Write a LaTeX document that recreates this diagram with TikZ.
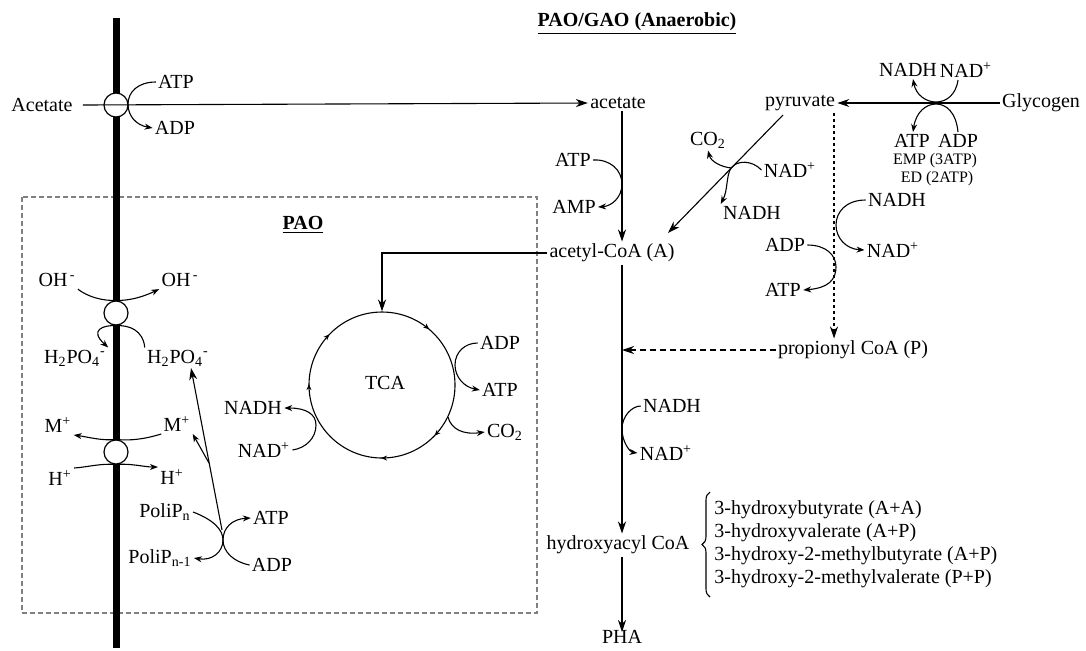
\documentclass[tikz,border=0pt]{standalone}
\usepackage{fontspec}
\setmainfont{Liberation Serif}
\usetikzlibrary{arrows.meta,decorations.markings,decorations.pathreplacing}
\begin{document}
\begin{tikzpicture}[x=0.5pt,y=-0.5pt,
  lbl/.style={font=\fontsize{10}{12}\selectfont, inner sep=1pt},
  sml/.style={font=\fontsize{8}{10}\selectfont, inner sep=1pt},
  ttl/.style={font=\fontsize{10}{12}\selectfont\bfseries, inner sep=1pt},
  ln/.style={line width=0.55pt},
  arr/.style={ln, -{Stealth[length=6pt,width=4pt]}},
  sarr/.style={ln, -{Stealth[length=4pt,width=3pt]}},
  tr/.style={circle, draw, fill=white, line width=0.6pt, minimum size=12pt, inner sep=0pt},
]
\useasboundingbox (0,0) rectangle (1086,650);
\fill[white] (0,0) rectangle (1086,650);

% titles and box
\node[ttl] (title) at (637,24) {\underline{PAO/GAO (Anaerobic)}};
\node[ttl] (pao) at (303,225) {\underline{PAO}};
\draw[gray, line width=0.6pt, dash pattern=on 2.5pt off 1.5pt] (22,197) rectangle (537,613);

% membrane
\coordinate (memtop) at (116,18);
\coordinate (membot) at (116,648);
\draw[line width=3.5pt] (memtop) -- (membot);
\node[tr] (t1) at (116,105) {};
\node[tr] (t2) at (116,313) {};
\node[tr] (t3) at (116,452) {};

% acetate uptake
\node[lbl] (Acet) at (42,105) {Acetate};
\node[lbl] (acet) at (618,103) {acetate};
\draw[arr] ([xshift=4pt]Acet.east) -- (acet.west);
\node[lbl] (atpA) at (176,82) {ATP};
\node[lbl] (adpA) at (175,128) {ADP};
\draw[sarr] (atpA.west) .. controls (138,82) and (128,92) .. (128,104) .. controls (128,116) and (136,125) .. (adpA.west);

% main column
\coordinate (mx) at (622,0);
\node[lbl] (acoa) at (612,253) {acetyl-CoA (A)};
\node[lbl] (hac) at (618,545) {hydroxyacyl CoA};
\node[lbl] (pha) at (622,637) {PHA};
\draw[arr] (acet.south -| mx) -- (acoa.north -| mx);
\draw[arr] (acoa.south -| mx) -- (hac.north -| mx);
\draw[arr] (hac.south -| mx) -- ([yshift=-2pt]pha.north -| mx);

\node[lbl] (atpB) at (573,160) {ATP};
\node[lbl] (amp) at (574,207) {AMP};
\draw[sarr] (atpB.east) .. controls (610,159) and (622,170) .. (622,184) .. controls (622,197) and (612,206) .. (amp.east);

\node[lbl] (nadhD) at (672,406) {NADH};
\node[lbl] (nadD) at (666,453) {NAD\textsuperscript{+}};
\draw[sarr] (nadhD.west) .. controls (632,406) and (622,416) .. (622,429) .. controls (622,442) and (630,452) .. (nadD.west);

% glycogen / pyruvate
\node[lbl] (pyr) at (800,103) {pyruvate};
\node[lbl] (gly) at (1041,103) {Glycogen};
\draw[arr] (gly.west) -- (pyr.east);
\node[lbl] (nadhG) at (908,70) {NADH};
\node[lbl] (nadG) at (966,70) {NAD\textsuperscript{+}};
\node[lbl] (atpG) at (912,141) {ATP};
\node[lbl] (adpG) at (958,141) {ADP};
\node[sml] (emp) at (935,161) {EMP (3ATP)};
\node[sml] (ed) at (937,179) {ED (2ATP)};
\draw[sarr] (nadG.south -| 958,0) .. controls (956,95) and (946,102) .. (936,102) .. controls (926,102) and (916,95) .. (nadhG.south -| 913,0);
\draw[sarr] (adpG.north -| 958,0) .. controls (956,112) and (946,104) .. (936,104) .. controls (926,104) and (916,112) .. (atpG.north -| 913,0);

% pyruvate -> acetyl-CoA
\coordinate (d1) at (783,115);
\coordinate (d2) at (668,233);
\coordinate (dj) at (731,168);
\draw[arr] (d1) -- (d2);
\node[lbl] (co2B) at (708,140) {CO\textsubscript{2}};
\node[lbl] (nadB) at (790,170) {NAD\textsuperscript{+}};
\node[lbl] (nadhB) at (752,213) {NADH};
\draw[sarr] (nadB.west) .. controls (752,160) and (737,160) .. (dj) .. controls (726,176) and (728,190) .. (nadhB.north west);
\draw[sarr] (dj) .. controls (722,167) and (711,162) .. (co2B.south);

% propionyl branch
\coordinate (dt1) at (834,113);
\node[lbl] (prop) at (853,350) {propionyl CoA (P)};
\draw[ln, dash pattern=on 1.5pt off 1.5pt, -{Stealth[length=6pt,width=4pt]}] (dt1) -- (prop.north -| dt1);
\draw[ln, dash pattern=on 3pt off 2pt, -{Stealth[length=6pt,width=4pt]}] (prop.west) -- (prop.west -| mx);
\node[lbl] (adpC) at (785,245) {ADP};
\node[lbl] (atpC) at (783,290) {ATP};
\draw[sarr] (adpC.east) .. controls (826,245) and (836,255) .. (836,267) .. controls (836,280) and (828,288) .. (atpC.east);
\node[lbl] (nadhC) at (897,200) {NADH};
\node[lbl] (nadC) at (893,250) {NAD\textsuperscript{+}};
\draw[sarr] (nadhC.west) .. controls (846,200) and (836,212) .. (836,225) .. controls (836,238) and (846,249) .. (nadC.west);

% products
\node[lbl, anchor=west] (h1) at (712,510) {3-hydroxybutyrate (A+A)};
\node[lbl, anchor=west] (h2) at (712,533) {3-hydroxyvalerate (A+P)};
\node[lbl, anchor=west] (h3) at (712,556) {3-hydroxy-2-methylbutyrate (A+P)};
\node[lbl, anchor=west] (h4) at (712,579) {3-hydroxy-2-methylvalerate (P+P)};
\coordinate (br1) at (710,597);
\coordinate (br2) at (710,492);
\draw[ln, decorate, decoration={brace, amplitude=4pt}] (br1) -- (br2);

% TCA cycle
\node[circle, draw, ln, minimum size=73pt, inner sep=0pt] (tca) at (382,385) {};
\node[lbl] (tcat) at (385,383) {TCA};
\path[decorate, decoration={markings,
  mark=at position 0.122 with {\arrow{Stealth[length=3pt,width=2.5pt]}},
  mark=at position 0.252 with {\arrow{Stealth[length=3pt,width=2.5pt]}},
  mark=at position 0.502 with {\arrow{Stealth[length=3pt,width=2.5pt]}},
  mark=at position 0.622 with {\arrow{Stealth[length=3pt,width=2.5pt]}},
  mark=at position 0.862 with {\arrow{Stealth[length=3pt,width=2.5pt]}}}]
  (382,385) ++(0:73) arc[start angle=0, end angle=360, radius=73];
\draw[arr] (acoa.west) -| (tca.north);
\node[lbl] (adpT) at (500,343) {ADP};
\node[lbl] (atpT) at (500,390) {ATP};
\node[lbl] (co2T) at (505,432) {CO\textsubscript{2}};
\draw[sarr] (adpT.west) .. controls (465,343) and (455,352) .. (455,365) .. controls (455,377) and (464,387) .. (atpT.west);
\coordinate (tc1) at (448,417);
\draw[sarr] (tc1) .. controls (451,429) and (463,435) .. (co2T.west);
\node[lbl] (nadhT) at (253,408) {NADH};
\node[lbl] (nadT) at (264,450) {NAD\textsuperscript{+}};
\draw[sarr] (nadT.east) .. controls (306,448) and (316,438) .. (316,425) .. controls (316,414) and (306,408) .. (nadhT.east);

% OH- / H2PO4- antiport
\node[lbl] (ohL) at (57,280) {OH\textsuperscript{\,-}};
\node[lbl] (ohR) at (180,280) {OH\textsuperscript{\,-}};
\node[lbl] (hpL) at (75,358) {H\textsubscript{2}PO\textsubscript{4}\textsuperscript{-}};
\node[lbl] (hpR) at (178,358) {H\textsubscript{2}PO\textsubscript{4}\textsuperscript{-}};
\draw[sarr] (ohL.south east) .. controls (88,297) and (103,301) .. (t2.north) .. controls (130,301) and (145,296) .. (ohR.south west);
\draw[sarr] (hpR.north west) .. controls (143,330) and (129,325) .. (t2.south) .. controls (103,325) and (89,330) .. (hpL.north east);

% M+ / H+
\node[lbl] (mL) at (58,425) {M\textsuperscript{+}};
\node[lbl] (mR) at (177,424) {M\textsuperscript{+}};
\node[lbl] (hL) at (60,478) {H\textsuperscript{+}};
\node[lbl] (hR) at (172,477) {H\textsuperscript{+}};
\draw[sarr] (mR.south west) .. controls (145,439) and (130,441) .. (t3.north) .. controls (102,441) and (88,437) .. (mL.south east);
\draw[sarr] (hL.north east) .. controls (88,467) and (102,463) .. (t3.south) .. controls (130,463) and (144,467) .. (hR.north west);

% polyphosphate
\node[lbl] (ppn) at (165,512) {PoliP\textsubscript{n}};
\node[lbl] (ppn1) at (160,558) {PoliP\textsubscript{n-1}};
\node[lbl] (atpP) at (271,518) {ATP};
\node[lbl] (adpP) at (272,565) {ADP};
\coordinate (pj) at (223,540);
\draw[sarr] (ppn.east) .. controls (214,520) and (223,530) .. (pj) .. controls (223,552) and (212,561) .. (ppn1.east);
\draw[sarr] (adpP.west) .. controls (234,562) and (223,552) .. (pj) .. controls (223,528) and (232,519) .. (atpP.west);
\coordinate (pl1) at (222,530);
\coordinate (pl2) at (191,368);
\coordinate (pb) at (209,463);
\draw[arr] (pl1) -- (pl2);
\draw[sarr] (pb) -- (mR.south east);
\end{tikzpicture}
\end{document}
